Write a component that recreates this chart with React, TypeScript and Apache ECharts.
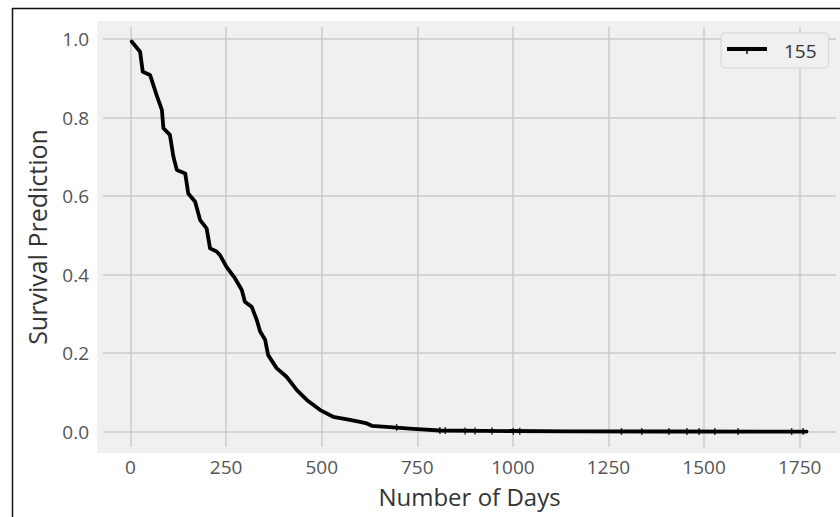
import React, { useEffect, useRef } from "react";
import * as echarts from "echarts";

// Survival curve (days, survival probability)
const days = [3, 25, 32, 51, 68, 82, 86, 103, 112, 121, 143, 151, 169, 182, 199, 208, 225, 234, 251, 273, 291, 299, 317, 330, 339, 352, 360, 382, 408, 435, 461, 496, 530, 574, 600, 618, 631, 687, 739, 809, 922, 1150, 1400, 1768];
const survival = [0.994, 0.968, 0.917, 0.909, 0.858, 0.82, 0.773, 0.756, 0.701, 0.667, 0.658, 0.607, 0.586, 0.539, 0.518, 0.467, 0.459, 0.45, 0.42, 0.391, 0.361, 0.331, 0.318, 0.285, 0.255, 0.234, 0.195, 0.162, 0.14, 0.106, 0.081, 0.055, 0.038, 0.03, 0.025, 0.021, 0.015, 0.011, 0.007, 0.003, 0.002, 0.001, 0.0005, 0.0003];

// Censor marks on the curve
const censorDays = [696, 809, 823, 875, 901, 945, 1001, 1018, 1284, 1337, 1408, 1455, 1487, 1528, 1589, 1729, 1759];
const censorSurv = [0.011, 0.003, 0.003, 0.002, 0.002, 0.002, 0.001, 0.001, 0.0005, 0.0005, 0.0005, 0.0005, 0.0005, 0.0005, 0.0004, 0.0003, 0.0003];

const xTicks = [0, 250, 500, 750, 1000, 1250, 1500, 1750];
const yTicks = [0, 0.2, 0.4, 0.6, 0.8, 1.0];

const seriesName = "155";
const xLabel = "Number of Days";
const yLabel = "Survival Prediction";

const FONT = "Open Sans";

export default function App() {
  const ref = useRef<HTMLDivElement>(null);
  useEffect(() => {
    if (!ref.current) return;
    const chart = echarts.init(ref.current, undefined, { renderer: "svg" });
    const lineData = days.map((d, i) => [d, survival[i]]);
    const censorData = censorDays.map((d, i) => [d, censorSurv[i]]);
    chart.setOption({
      animation: false,
      backgroundColor: "#ffffff",
      graphic: [
        {
          type: "rect",
          z: -10,
          silent: true,
          shape: { x: 97, y: 21, width: 743, height: 432 },
          style: { fill: "#f0f0f0" },
        },
        {
          type: "line",
          silent: true,
          shape: { x1: 12, y1: 8.5, x2: 840, y2: 8.5 },
          style: { stroke: "#111", lineWidth: 1.5 },
        },
        {
          type: "line",
          silent: true,
          shape: { x1: 12.5, y1: 8, x2: 12.5, y2: 517 },
          style: { stroke: "#111", lineWidth: 1.5 },
        },
      ],
      grid: { left: 103, top: 27, right: 4, bottom: 70, containLabel: false },
      legend: {
        left: 721,
        top: 33,
        orient: "vertical",
        padding: [8, 12, 8, 6],
        itemWidth: 40,
        itemHeight: 7,
        backgroundColor: "#f0f0f0",
        borderColor: "#d4d4d4",
        borderWidth: 1,
        borderRadius: 4,
        data: [
          {
            name: seriesName,
            icon: "path://M0,0H40V4H0Z M19.3,4H20.7V7H19.3Z",
          },
        ],
        textStyle: {
          fontFamily: FONT,
          fontSize: 19,
          color: "#333",
          padding: [0, 0, 0, 12],
        },
      },
      xAxis: {
        type: "value",
        min: -72,
        max: 1845,
        name: xLabel,
        nameLocation: "middle",
        nameGap: 37,
        nameTextStyle: { fontFamily: FONT, fontSize: 24, color: "#333" },
        axisLine: { show: false },
        axisTick: { show: false, customValues: xTicks },
        axisLabel: {
          customValues: xTicks,
          margin: 10,
          fontFamily: FONT,
          fontSize: 19,
          color: "#555",
          formatter: (v: number) => String(v),
        },
        splitLine: { show: true, lineStyle: { color: "#cbcbcb", width: 1.5 } },
      },
      yAxis: {
        type: "value",
        min: -0.039,
        max: 1.031,
        name: yLabel,
        nameLocation: "middle",
        nameGap: 54,
        nameTextStyle: { fontFamily: FONT, fontSize: 25, color: "#333" },
        axisLine: { show: false },
        axisTick: { show: false, customValues: yTicks },
        axisLabel: {
          customValues: yTicks,
          margin: 14,
          fontFamily: FONT,
          fontSize: 19,
          color: "#555",
          formatter: (v: number) => v.toFixed(1),
        },
        splitLine: { show: true, lineStyle: { color: "#cbcbcb", width: 1.5 } },
      },
      series: [
        {
          name: seriesName,
          type: "line",
          data: lineData,
          showSymbol: false,
          symbol: "none",
          lineStyle: { color: "#000", width: 3.8, join: "round", cap: "round" },
          itemStyle: { color: "#000" },
          z: 3,
        },
        {
          name: "censor",
          type: "scatter",
          data: censorData,
          symbol: "rect",
          symbolSize: [1.5, 7],
          itemStyle: { color: "#000" },
          z: 4,
        },
      ],
    });
    return () => chart.dispose();
  }, []);
  return (
    <div
      ref={ref}
      style={{ position: "absolute", left: 0, top: 0, width: 840, height: 517 }}
    />
  );
}
